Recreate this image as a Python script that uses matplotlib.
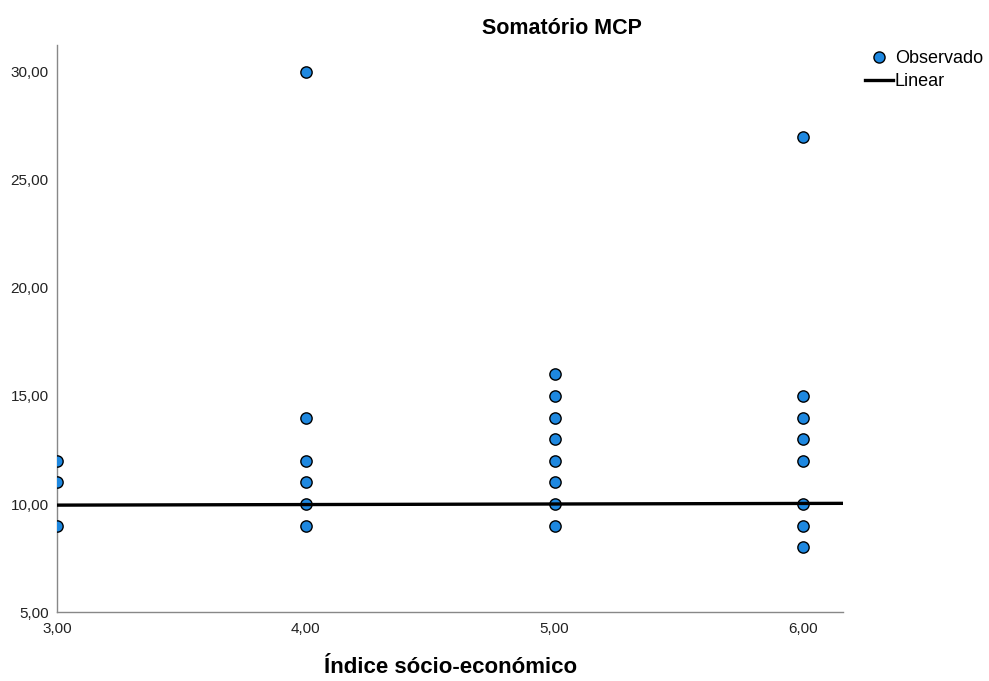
import matplotlib
matplotlib.use("Agg")
import matplotlib.pyplot as plt
from matplotlib.lines import Line2D
from matplotlib.ticker import FuncFormatter

# observed values per socio-economic index
x_obs = [3, 3, 3,
         4, 4, 4, 4, 4, 4,
         5, 5, 5, 5, 5, 5, 5, 5,
         6, 6, 6, 6, 6, 6, 6, 6]
y_obs = [12, 11, 9,
         30, 14, 12, 11, 10, 9,
         16, 15, 14, 13, 12, 11, 10, 9,
         27, 15, 14, 13, 12, 10, 9, 8]

# linear fit
fit_intercept = 9.87
fit_slope = 0.026

x_ticks = [3, 4, 5, 6]
y_ticks = [5, 10, 15, 20, 25, 30]

plt.rcParams["font.family"] = ["Liberation Sans", "DejaVu Sans"]

fig = plt.figure(figsize=(9.89, 6.81), dpi=100)
ax = fig.add_axes([0.0576, 0.1013, 0.795, 0.8327])

xmin, xmax = 3, 6.16
ax.scatter(x_obs, y_obs, s=66, c="#1e88e0", edgecolors="black",
           linewidths=1.0, zorder=3, clip_on=True)
fx = [xmin, xmax]
fy = [fit_intercept + fit_slope * v for v in fx]
ax.plot(fx, fy, color="black", lw=2.4, zorder=4, solid_capstyle="butt")

ax.set_xlim(xmin, xmax)
ax.set_ylim(5, 31.25)
ax.set_xticks(x_ticks)
ax.set_yticks(y_ticks)
fmt = FuncFormatter(lambda v, p: f"{v:.2f}".replace(".", ","))
ax.xaxis.set_major_formatter(fmt)
ax.yaxis.set_major_formatter(fmt)
ax.tick_params(length=0, labelsize=11, colors="#222222", pad=6)
ax.tick_params(axis="x", pad=7)

for side in ("top", "right"):
    ax.spines[side].set_visible(False)
for side in ("left", "bottom"):
    ax.spines[side].set_color("#888888")
    ax.spines[side].set_linewidth(1.0)

fig.text(562 / 989, 1 - 28 / 681, "Somatório MCP", fontsize=15.5,
         fontweight="bold", ha="center", va="center")
ax.set_xlabel("Índice sócio-económico", fontsize=16, fontweight="bold", labelpad=15)

handles = [
    Line2D([], [], marker="o", ls="none", markersize=8, markerfacecolor="#1e88e0",
           markeredgecolor="black", markeredgewidth=1.0, label="Observado"),
    Line2D([], [], color="black", lw=2.4, label="Linear"),
]
fig.legend(handles=handles, loc="upper left", bbox_to_anchor=(865 / 989, 1 - 50 / 681),
           frameon=False, fontsize=13, handlelength=1.55, handletextpad=0.1,
           labelspacing=0.35, borderaxespad=0, borderpad=0)

fig.savefig("out.png", dpi=100, facecolor="white")
